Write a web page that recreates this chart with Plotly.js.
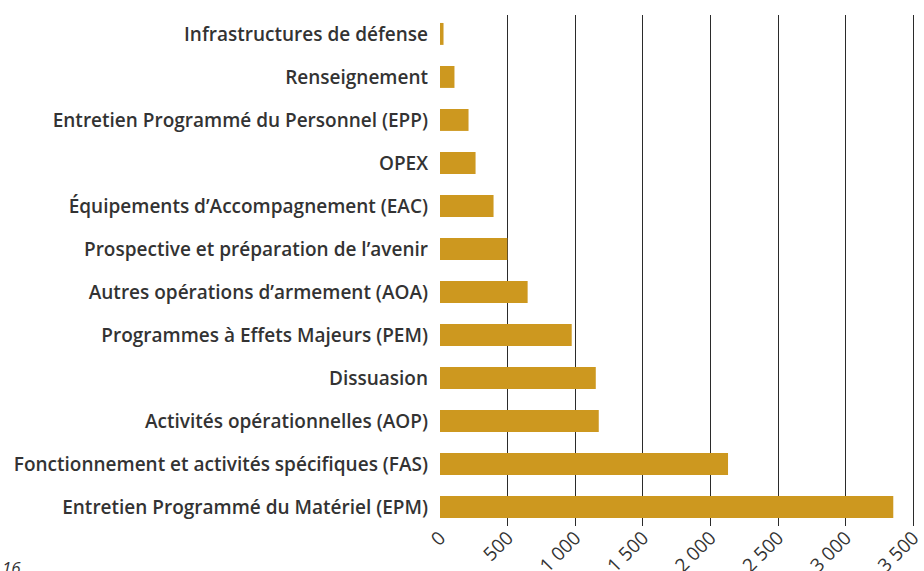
<!DOCTYPE html>
<html>
<head>
<meta charset="utf-8">
<script src="https://cdn.plot.ly/plotly-3.0.1.min.js"></script>
<style>html,body{margin:0;padding:0;background:#fff;}#chart{width:924px;height:571px;}</style>
</head>
<body>
<div id="chart"></div>
<script>
const categories = [
  "Infrastructures de défense",
  "Renseignement",
  "Entretien Programmé du Personnel (EPP)",
  "OPEX",
  "Équipements d’Accompagnement (EAC)",
  "Prospective et préparation de l’avenir",
  "Autres opérations d’armement (AOA)",
  "Programmes à Effets Majeurs (PEM)",
  "Dissuasion",
  "Activités opérationnelles (AOP)",
  "Fonctionnement et activités spécifiques (FAS)",
  "Entretien Programmé du Matériel (EPM)"
];
const values = [26, 107, 211, 263, 396, 498, 648, 974, 1152, 1174, 2130, 3352];
const tickValues = [0, 500, 1000, 1500, 2000, 2500, 3000, 3500];
const tickLabels = ["0", "500", "1 000", "1 500", "2 000", "2 500", "3 000", "3 500"];

const trace = {
  type: 'bar',
  orientation: 'h',
  x: values,
  y: categories,
  width: 0.51,
  marker: {color: '#CD981F'},
  hoverinfo: 'x+y'
};

const layout = {
  width: 924,
  height: 571,
  margin: {l: 440, r: 8, t: 15, b: 45},
  paper_bgcolor: '#fff',
  plot_bgcolor: '#fff',
  showlegend: false,
  xaxis: {
    range: [0, 3520],
    tickvals: tickValues,
    ticktext: tickLabels,
    tickangle: -45,
    ticklabeloverflow: 'allow',
    ticklabelstandoff: -4,
    showgrid: true,
    gridcolor: '#2b2b2b',
    gridwidth: 1,
    zeroline: false,
    showline: false,
    ticks: '',
    tickfont: {family: 'Open Sans, sans-serif', size: 19, color: '#333'}
  },
  yaxis: {
    type: 'category',
    range: [11.44, -0.44],
    showgrid: false,
    zeroline: false,
    showline: false,
    ticks: '',
    ticklabelstandoff: 11,
    tickfont: {family: 'Open Sans, sans-serif', size: 19, color: '#333', weight: 600}
  },
  annotations: [{
    text: '<i>16</i>',
    xref: 'paper', yref: 'paper',
    x: -440/476, y: -0.055,
    xanchor: 'left', yanchor: 'top',
    showarrow: false,
    font: {family: 'Open Sans, sans-serif', size: 17, color: '#333'}
  }]
};

Plotly.newPlot('chart', [trace], layout, {displayModeBar: false, staticPlot: true});
</script>
</body>
</html>
